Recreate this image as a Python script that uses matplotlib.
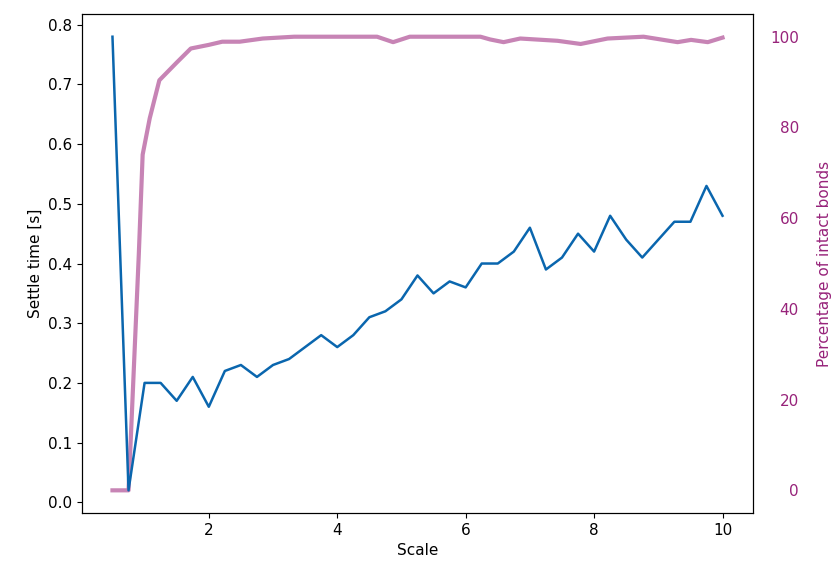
import matplotlib
matplotlib.use("Agg")
import matplotlib.pyplot as plt

# Settle time, sampled every 0.25 in scale
scale = [0.5, 0.75, 1.0, 1.25, 1.5, 1.75, 2.0, 2.25, 2.5, 2.75, 3.0, 3.25, 3.5,
         3.75, 4.0, 4.25, 4.5, 4.75, 5.0, 5.25, 5.5, 5.75, 6.0, 6.25, 6.5, 6.75,
         7.0, 7.25, 7.5, 7.75, 8.0, 8.25, 8.5, 8.75, 9.0, 9.25, 9.5, 9.75, 10.0]
settle_time = [0.78, 0.02, 0.20, 0.20, 0.17, 0.21, 0.16, 0.22, 0.23, 0.21, 0.23,
               0.24, 0.26, 0.28, 0.26, 0.28, 0.31, 0.32, 0.34, 0.38, 0.35, 0.37,
               0.36, 0.40, 0.40, 0.42, 0.46, 0.39, 0.41, 0.45, 0.42, 0.48, 0.44,
               0.41, 0.44, 0.47, 0.47, 0.53, 0.48]

# Percentage of intact bonds
bond_scale = [0.5, 0.75, 0.82, 0.91, 0.97, 1.08, 1.23, 1.5, 1.72, 2.0, 2.21, 2.48,
              2.84, 3.33, 4.62, 4.87, 5.13, 6.23, 6.38, 6.59, 6.85, 7.43, 7.79,
              8.21, 8.77, 9.30, 9.51, 9.77, 10.0]
bond_pct = [0.0, 0.0, 22.7, 52.0, 74.0, 82.0, 90.4, 94.3, 97.4, 98.2, 98.9, 98.9,
            99.6, 100.0, 100.0, 98.8, 100.0, 100.0, 99.4, 98.8, 99.6, 99.1, 98.4,
            99.6, 100.0, 98.8, 99.3, 98.8, 99.8]

BLUE = "#0a66ae"
PURPLE_LINE = "#c784b5"
PURPLE_TEXT = "#97237a"

plt.rcParams["font.size"] = 11

fig = plt.figure(figsize=(8.33, 5.68), dpi=100)
ax = fig.add_axes([0.0984, 0.0968, 0.8056, 0.8785])
ax.plot(scale, settle_time, color=BLUE, linewidth=1.8)
ax.set_xlabel("Scale")
ax.set_ylabel("Settle time [s]")
ax.set_xticks([2, 4, 6, 8, 10])

ax2 = ax.twinx()
ax2.plot(bond_scale, bond_pct, color=PURPLE_LINE, linewidth=3)
ax2.tick_params(axis="y", length=0, pad=33, colors=PURPLE_TEXT)
for lbl in ax2.get_yticklabels():
    lbl.set_horizontalalignment("right")
# label hugs the right edge, as in the original screenshot
ax2.set_ylabel("Percentage of intact bonds", color=PURPLE_TEXT, labelpad=13)
ax2.set_zorder(ax.get_zorder() - 1)
ax.patch.set_visible(False)

fig.savefig("out.png", dpi=100)
